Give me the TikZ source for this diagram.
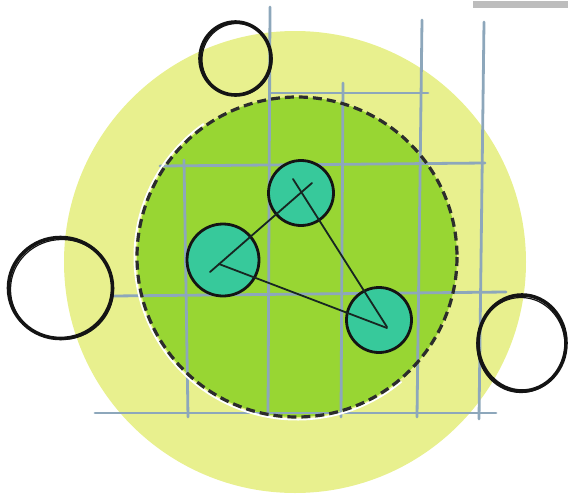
\documentclass[tikz,border=0pt]{standalone}
\usetikzlibrary{shapes.geometric}
\definecolor{yel}{HTML}{E8F08E}
\definecolor{grn}{HTML}{98D633}
\definecolor{tealc}{HTML}{37C99B}
\definecolor{gridc}{HTML}{8DA7BB}
\definecolor{ink}{HTML}{141414}
\definecolor{barc}{HTML}{BDBDBD}
\tikzset{
  disc/.style={circle, inner sep=0pt, draw=none},
  gridline/.style={draw=gridc, line width=2.8pt, line cap=round},
  tealdisc/.style={circle, inner sep=0pt, fill=tealc, draw=ink, line width=2.8pt},
  ring/.style={ellipse, inner sep=0pt, draw=ink, line width=3.6pt},
  ringb/.style={draw=ink, line width=1.2pt},
  tri/.style={draw=ink!90!tealc, line width=1.8pt, line cap=round},
  dashring/.style={draw=ink!90, line width=3.2pt, dash pattern=on 9pt off 5pt},
}
\begin{document}
\begin{tikzpicture}[x=1pt,y=-1pt]
\useasboundingbox (0,0) rectangle (568,493);
% grey bar top right
\fill[barc] (473,1) rectangle (568,8);
% big discs
\node[disc, fill=yel, minimum size=462pt] (outer) at (295,262) {};
\node[disc, fill=grn, minimum size=320pt] (inner) at (297,257) {};
% grid
\draw[gridline] (270,7) -- (268,417);
\draw[gridline] (343,83) -- (341,417);
\draw[gridline] (422,20) -- (417,417);
\draw[gridline] (484,22) -- (479,419);
\draw[gridline] (184,160) -- (188,417);
\draw[gridline] (270,93) -- (428,93);
\draw[gridline] (160,166) -- (485,163);
\draw[gridline] (113,296) -- (506,292);
\draw[gridline] (95,413) -- (496,413);
% dashed boundary
\draw[white, line width=2pt] (inner.center) ++(50:162.5) arc[start angle=50, end angle=235, radius=162.5];
\draw[dashring] (inner.center) circle (160);
% teal circles
\node[tealdisc, minimum size=65pt] (t1) at (301,193) {};
\node[tealdisc, minimum size=72pt] (t2) at (223,260) {};
\node[tealdisc, minimum size=65pt] (t3) at (379,320) {};
% triangle strokes
\coordinate (a1) at (312,183);
\coordinate (a2) at (210,272);
\coordinate (b1) at (293,179);
\coordinate (b2) at (387,327);
\coordinate (c1) at (219,264);
\coordinate (c2) at (387,328);
\draw[tri] (a1) -- (a2);
\draw[tri] (b1) -- (b2);
\draw[tri] (c1) -- (c2);
% open black rings
\node[ring, minimum width=71pt, minimum height=73pt] (r1) at (235.5,58.5) {};
\node[ring, minimum width=104pt, minimum height=101pt] (r2) at (60.5,288) {};
\node[ring, minimum width=88pt, minimum height=96pt] (r3) at (522,343) {};
\draw[ringb] (r1.center) ++(1.5,1) ellipse (35 and 36);
\draw[ringb] (r2.center) ++(1.5,1.5) ellipse (51.5 and 50);
\draw[ringb] (r3.center) ++(-1,2) ellipse (44 and 47.5);
\end{tikzpicture}
\end{document}
